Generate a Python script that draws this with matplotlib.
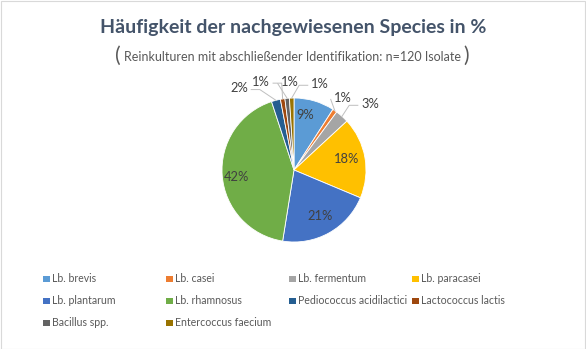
import numpy as np
import matplotlib
matplotlib.use("Agg")
import matplotlib.pyplot as plt
from matplotlib.patches import Rectangle

categories = ["Lb. brevis", "Lb. casei", "Lb. fermentum", "Lb. paracasei",
              "Lb. plantarum", "Lb. rhamnosus", "Pediococcus acidilactici",
              "Lactococcus lactis", "Bacillus spp.", "Entercoccus faecium"]
percent = [9, 1, 3, 18, 21, 42, 2, 1, 1, 1]
colors = ["#5B9BD5", "#ED7D31", "#A5A5A5", "#FFC000", "#4472C4", "#70AD47",
          "#255E91", "#9E480E", "#636363", "#997300"]

plt.rcParams['font.family'] = ['Lato', 'DejaVu Sans']

W, H = 586, 349
fig = plt.figure(figsize=(W / 100, H / 100), dpi=100)
fig.patch.set_facecolor("white")
fig.add_artist(Rectangle((0.5 / W, 0.5 / H), 1 - 1.5 / W, 1 - 1.5 / H,
                         transform=fig.transFigure, fill=False,
                         edgecolor="#D9D9D9", linewidth=0.8))

# pie axes: center (294,170) px, radius 72 px
cx, cy, r = 294, 170, 72
ax = fig.add_axes([(cx - r) / W, (H - cy - r) / H, 2 * r / W, 2 * r / H])
wedges, _ = ax.pie(percent, colors=colors, startangle=90, counterclock=False,
                   radius=1, wedgeprops=dict(edgecolor="white", linewidth=0.6))
ax.set_xlim(-1, 1)
ax.set_ylim(-1, 1)
ax.axis("off")

label_color = "#404040"
# label placement: (clockwise angle from 12 o'clock in degrees, radius)
placement = {0: (11.3, 0.78), 3: (78.0, 0.75), 4: (150.5, 0.73),
             5: (263.0, 0.81),
             1: (34.2, 1.21), 2: (49.0, 1.40), 6: (-33.9, 1.37),
             7: (-20.6, 1.31), 8: (-2.6, 1.22), 9: (16.8, 1.25)}
for i, w in enumerate(wedges):
    ang, rr = placement[i]
    a = np.deg2rad(90 - ang)
    lx, ly = rr * np.cos(a), rr * np.sin(a)
    ax.text(lx, ly, f"{percent[i]}%", ha="center", va="center",
            fontsize=9.3, color=label_color)
    if rr > 1:
        mid = np.deg2rad((w.theta1 + w.theta2) / 2)
        ex, ey = 1.0 * np.cos(mid), 1.0 * np.sin(mid)
        if lx > ex:
            sx = lx - 0.17
        else:
            sx = lx + 0.17
        sy = ly - 0.02
        hx = sx + (0.12 if lx < ex else -0.12)
        hx = hx if abs(hx - ex) < abs(sx - ex) else sx
        ax.plot([sx, hx, ex], [sy, sy, ey], color="#BFBFBF", lw=0.7,
                clip_on=False)

# title
title_color = "#44546A"
fig.text(293 / W, 1 - 28 / H, "Häufigkeit der nachgewiesenen Species in %",
         ha="center", va="center", fontsize=14, fontweight="bold",
         color=title_color)
fig.text(292.5 / W, 1 - 57 / H,
         "Reinkulturen mit abschließender Identifikation: n=120 Isolate",
         ha="center", va="center", fontsize=9.0, color="#595959")
fig.text(118 / W, 1 - 56 / H, "(", ha="center", va="center", fontsize=15,
         color="#595959")
fig.text(466 / W, 1 - 56 / H, ")", ha="center", va="center", fontsize=15,
         color="#595959")

# legend (manual grid)
col_x = [43, 166, 289, 412]
row_y = [279, 301, 323]
for i, (name, c) in enumerate(zip(categories, colors)):
    row, col = divmod(i, 4)
    x, y = col_x[col], row_y[row]
    fig.add_artist(Rectangle((x / W, (H - y - 3.3) / H), 6.6 / W, 6.6 / H,
                             transform=fig.transFigure, facecolor=c,
                             edgecolor="none"))
    fig.text((x + 9.0) / W, 1 - y / H, name, ha="left", va="center",
             fontsize=7.6, color="#595959")

fig.savefig("out.png", dpi=100)
